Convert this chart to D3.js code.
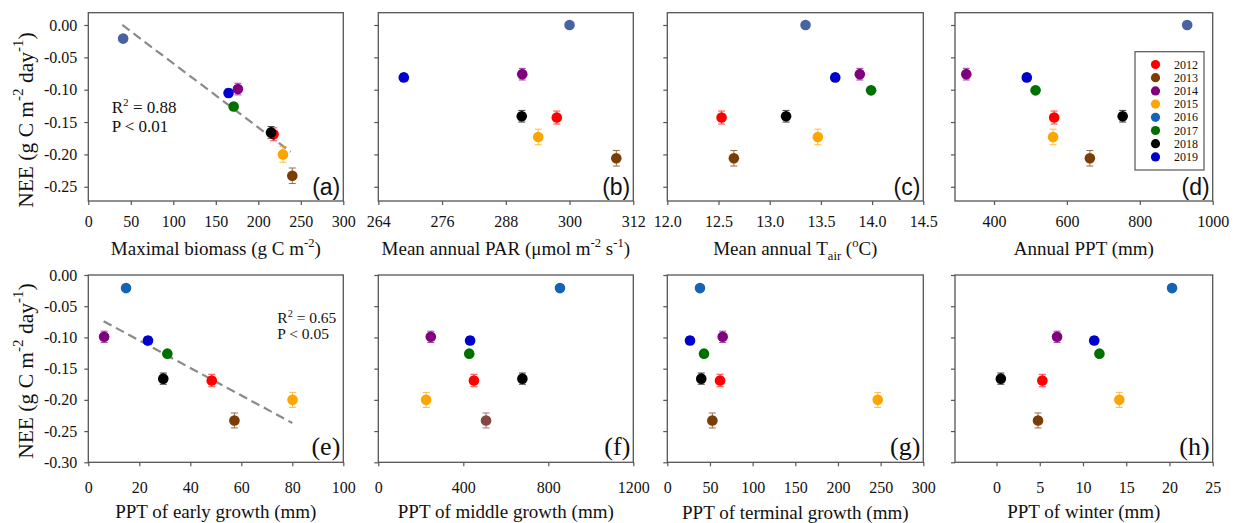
<!DOCTYPE html>
<html><head><meta charset="utf-8">
<script src="https://cdn.jsdelivr.net/npm/d3@7"></script>
<style>body{margin:0;background:#fff;} svg{display:block;}</style>
</head><body><svg id="c" width="1237" height="523"></svg>
<script>
// ---------------- data ----------------
const years = ['2012','2013','2014','2015','2016','2017','2018','2019'];
const yearColors = ['#ff0000','#7a3d05','#800080','#ffa500','#1463b5','#007000','#000000','#0000cc'];
// NEE used in panels (a), (e)-(h)
const neeGrowth = [-0.169, -0.233, -0.099, -0.200, -0.021, -0.126, -0.166, -0.105];
const neeGrowthErr = [0.010, 0.012, 0.009, 0.012, 0.000, 0.004, 0.009, 0.006];
// NEE used in panels (b)-(d)
const neeAnnual = [-0.143, -0.206, -0.076, -0.173, 0.000, -0.101, -0.141, -0.081];
const neeAnnualErr = [0.010, 0.012, 0.009, 0.012, 0.000, 0.004, 0.009, 0.006];
// x variables
const maxBiomass = [218, 240, 176, 229, 41, 171, 215, 165];
const meanPAR = [297.6, 308.8, 291.1, 294.1, 300.0, null, 291.0, 268.8];
const meanTair = [12.53, 12.65, 13.88, 13.47, 13.35, 13.99, 13.16, 13.64];
const annualPPT = [565, 663, 324, 562, 930, 514, 753, 490];
const pptEarly = [48.4, 57.3, 6.2, 80.1, 14.8, 31.0, 29.4, 23.4];
const pptMiddle = [450, 507, 247, 225, 855, 428, 678, 432];
const pptTerminal = [61.8, 52.8, 64.9, 246.6, 38.3, 43.0, 39.8, 26.6];
const pptWinter = [5.3, 4.8, 7.0, 14.2, 20.3, 11.9, 0.5, 11.3];
// tick labels
const yTicksTop = [0, -0.05, -0.10, -0.15, -0.20, -0.25];
const yTicksBottom = [0, -0.05, -0.10, -0.15, -0.20, -0.25, -0.30];
const xTicksA = [0, 50, 100, 150, 200, 250, 300];
const xTicksB = [264, 276, 288, 300, 312];
const xTicksC = [12.0, 12.5, 13.0, 13.5, 14.0, 14.5];
const xTicksD = [400, 600, 800, 1000];
const xTicksE = [0, 20, 40, 60, 80, 100];
const xTicksF = [0, 400, 800, 1200];
const xTicksG = [0, 50, 100, 150, 200, 250, 300];
const xTicksH = [0, 5, 10, 15, 20, 25];
// fitted regression lines (endpoints)
const fitA_x = [40, 238], fitA_y = [0.000, -0.196];
const fitE_x = [6, 80], fitE_y = [-0.074, -0.237];
const statsA = ['0.88', '0.01'];
const statsE = ['0.65', '0.05'];

// ---------------- layout ----------------
const svg = d3.select('#c');
const SERIF = '"Liberation Serif","Times New Roman",serif';
const SANS = '"Liberation Sans",Arial,sans-serif';
const colLeft = [88.3, 378.3, 667.3, 955];
const colWidth = [255, 255, 256, 257.7];
const rowTop = [12.7, 275];
const rowHeight = [188.3, 187.3];
const yDomains = [[-0.272, 0.019], [-0.30, 0.00]];
const yTickSets = [yTicksTop, yTicksBottom];
const xPad = [10.6, 15.6];
const titleBase = [255, 518];

function richText(sel, parts, size, supScale) {
  let shift = 0;
  const sc = supScale || 0.66;
  parts.forEach(p => {
    const t = sel.append('tspan').text(p.t);
    let target = 0, fs = size;
    if (p.sup) { target = -0.42 * size; fs = sc * size; }
    if (p.sub) { target = 0.28 * size; fs = sc * size; }
    t.attr('dy', target - shift).attr('font-size', fs);
    shift = target;
  });
}

const panels = [
  {r:0,c:0,x:maxBiomass,y:neeGrowth,e:neeGrowthErr,dom:[0,300],ticks:xTicksA,fmt:d=>String(d),label:'(a)',
   title:[{t:'Maximal biomass (g C m'},{t:'-2',sup:true},{t:')'}], fit:[fitA_x,fitA_y], stats:statsA, c2016:'#4a62a3'},
  {r:0,c:1,x:meanPAR,y:neeAnnual,e:neeAnnualErr,dom:[264,312],ticks:xTicksB,fmt:d=>String(d),label:'(b)',
   title:[{t:'Mean annual PAR (\u03bcmol m'},{t:'-2',sup:true},{t:' s'},{t:'-1',sup:true},{t:')'}], c2016:'#4a62a3'},
  {r:0,c:2,x:meanTair,y:neeAnnual,e:neeAnnualErr,dom:[12.0,14.5],ticks:xTicksC,fmt:d=>d.toFixed(1),label:'(c)',
   title:[{t:'Mean annual T'},{t:'air',sub:true},{t:' ('},{t:'o',sup:true},{t:'C)'}], c2016:'#4a62a3'},
  {r:0,c:3,x:annualPPT,y:neeAnnual,e:neeAnnualErr,dom:[293,1000],ticks:xTicksD,fmt:d=>String(d),label:'(d)',
   title:[{t:'Annual PPT (mm)'}], c2016:'#4a62a3', legend:true},
  {r:1,c:0,x:pptEarly,y:neeGrowth,e:neeGrowthErr,dom:[0,100],ticks:xTicksE,fmt:d=>String(d),label:'(e)',
   title:[{t:'PPT of early growth (mm)'}], fit:[fitE_x,fitE_y], stats:statsE},
  {r:1,c:1,x:pptMiddle,y:neeGrowth,e:neeGrowthErr,dom:[0,1200],ticks:xTicksF,fmt:d=>String(d),label:'(f)',
   title:[{t:'PPT of middle growth (mm)'}], c2013:'#844842'},
  {r:1,c:2,x:pptTerminal,y:neeGrowth,e:neeGrowthErr,dom:[0,300],ticks:xTicksG,fmt:d=>String(d),label:'(g)',
   title:[{t:'PPT of terminal growth (mm)'}], titleDy:0.5},
  {r:1,c:3,x:pptWinter,y:neeGrowth,e:neeGrowthErr,dom:[-4.8,25],ticks:xTicksH,fmt:d=>String(d),label:'(h)',
   title:[{t:'PPT of winter (mm)'}]},
];

panels.forEach(p => {
  const L = colLeft[p.c], W = colWidth[p.c], T = rowTop[p.r], H = rowHeight[p.r];
  const xs = d3.scaleLinear().domain(p.dom).range([L, L + W]);
  const ys = d3.scaleLinear().domain(yDomains[p.r]).range([T + H, T]);
  const g = svg.append('g');

  // y axis
  const ya = d3.axisLeft(ys).tickValues(yTickSets[p.r]).tickSize(4).tickPadding(7)
    .tickFormat(p.c === 0 ? (d => d.toFixed(2)) : (() => ''));
  const yg = g.append('g').attr('transform', `translate(${L},0)`).call(ya);
  // x axis
  const xa = d3.axisBottom(xs).tickValues(p.ticks).tickSize(4).tickPadding(xPad[p.r]).tickFormat(p.fmt);
  const xg = g.append('g').attr('transform', `translate(0,${T + H})`).call(xa);
  [yg, xg].forEach(a => {
    a.attr('font-family', SERIF);
    a.select('.domain').remove();
    a.selectAll('line').attr('stroke', '#555').attr('stroke-width', 1.2);
    a.selectAll('text').attr('font-family', SERIF).attr('font-size', 16).attr('fill', '#111');
  });
  // frame
  g.append('rect').attr('x', L).attr('y', T).attr('width', W).attr('height', H)
    .attr('fill', 'none').attr('stroke', '#555').attr('stroke-width', 1.3);

  // fit line
  if (p.fit) {
    g.append('line').attr('x1', xs(p.fit[0][0])).attr('y1', ys(p.fit[1][0]))
      .attr('x2', xs(p.fit[0][1])).attr('y2', ys(p.fit[1][1]))
      .attr('stroke', '#8a8a8a').attr('stroke-width', 2.2).attr('stroke-dasharray', '9,5');
  }

  // points
  years.forEach((yr, i) => {
    if (p.x[i] == null) return;
    let col = yearColors[i];
    if (i === 4 && p.c2016) col = p.c2016;
    if (i === 1 && p.c2013) col = p.c2013;
    const cx = xs(p.x[i]), cy = ys(p.y[i]);
    if (p.e[i] > 0) {
      const y1 = ys(p.y[i] + p.e[i]), y2 = ys(p.y[i] - p.e[i]);
      const eg = g.append('g').attr('stroke', col).attr('stroke-width', 1).attr('opacity', 0.75);
      eg.append('line').attr('x1', cx).attr('x2', cx).attr('y1', y1).attr('y2', y2);
      eg.append('line').attr('x1', cx - 3.5).attr('x2', cx + 3.5).attr('y1', y1).attr('y2', y1);
      eg.append('line').attr('x1', cx - 3.5).attr('x2', cx + 3.5).attr('y1', y2).attr('y2', y2);
    }
    g.append('circle').attr('cx', cx).attr('cy', cy).attr('r', 5.3).attr('fill', col);
  });

  // panel label
  g.append('text').attr('x', L + W - 3).attr('y', T + H - (p.r === 0 ? 6 : 7))
    .attr('text-anchor', 'end').attr('font-family', p.r === 0 ? SANS : SERIF)
    .attr('font-size', p.r === 0 ? 23 : 26).attr('fill', '#111').text(p.label);

  // x title
  const tt = g.append('text').attr('x', L + W / 2).attr('y', titleBase[p.r] + (p.titleDy || 0))
    .attr('text-anchor', 'middle').attr('font-family', SERIF).attr('fill', '#111').attr('font-size', 19);
  richText(tt, p.title, 19);

  // stats
  if (p.stats) {
    const sx = p.r === 0 ? 111.7 : 277.3;
    const sy = p.r === 0 ? [113.3, 132.3] : [323.3, 339];
    const fs = p.r === 0 ? 17 : 15.5;
    const t1 = g.append('text').attr('x', sx).attr('y', sy[0]).attr('font-family', SERIF).attr('fill', '#111').attr('font-size', fs);
    richText(t1, [{t:'R'},{t:'2',sup:true},{t:' = ' + p.stats[0]}], fs);
    g.append('text').attr('x', sx).attr('y', sy[1]).attr('font-family', SERIF).attr('fill', '#111')
      .attr('font-size', fs).text('P < ' + p.stats[1]);
  }

  // legend
  if (p.legend) {
    const lg = g.append('g');
    lg.append('rect').attr('x', 1135).attr('y', 51.7).attr('width', 69).attr('height', 118.3)
      .attr('fill', '#fff').attr('stroke', '#555').attr('stroke-width', 1.2);
    years.forEach((yr, i) => {
      const cy = 64.5 + i * 13.2;
      lg.append('circle').attr('cx', 1155.5).attr('cy', cy).attr('r', 4.6).attr('fill', yearColors[i]);
      lg.append('text').attr('x', 1174).attr('y', cy + 4).attr('font-family', SERIF)
        .attr('font-size', 12).attr('fill', '#111').text(yr);
    });
  }
});

// y-axis titles
[0, 1].forEach(r => {
  const cy = r === 0 ? 120 : 371;
  const t = svg.append('text').attr('transform', `translate(32.5,${cy}) rotate(-90)`)
    .attr('text-anchor', 'middle').attr('font-family', SERIF).attr('fill', '#111').attr('font-size', 21.5);
  richText(t, [{t:'NEE (g C m'},{t:'-2',sup:true},{t:' day'},{t:'-1',sup:true},{t:')'}], 21.5, 0.7);
});
</script></body></html>
